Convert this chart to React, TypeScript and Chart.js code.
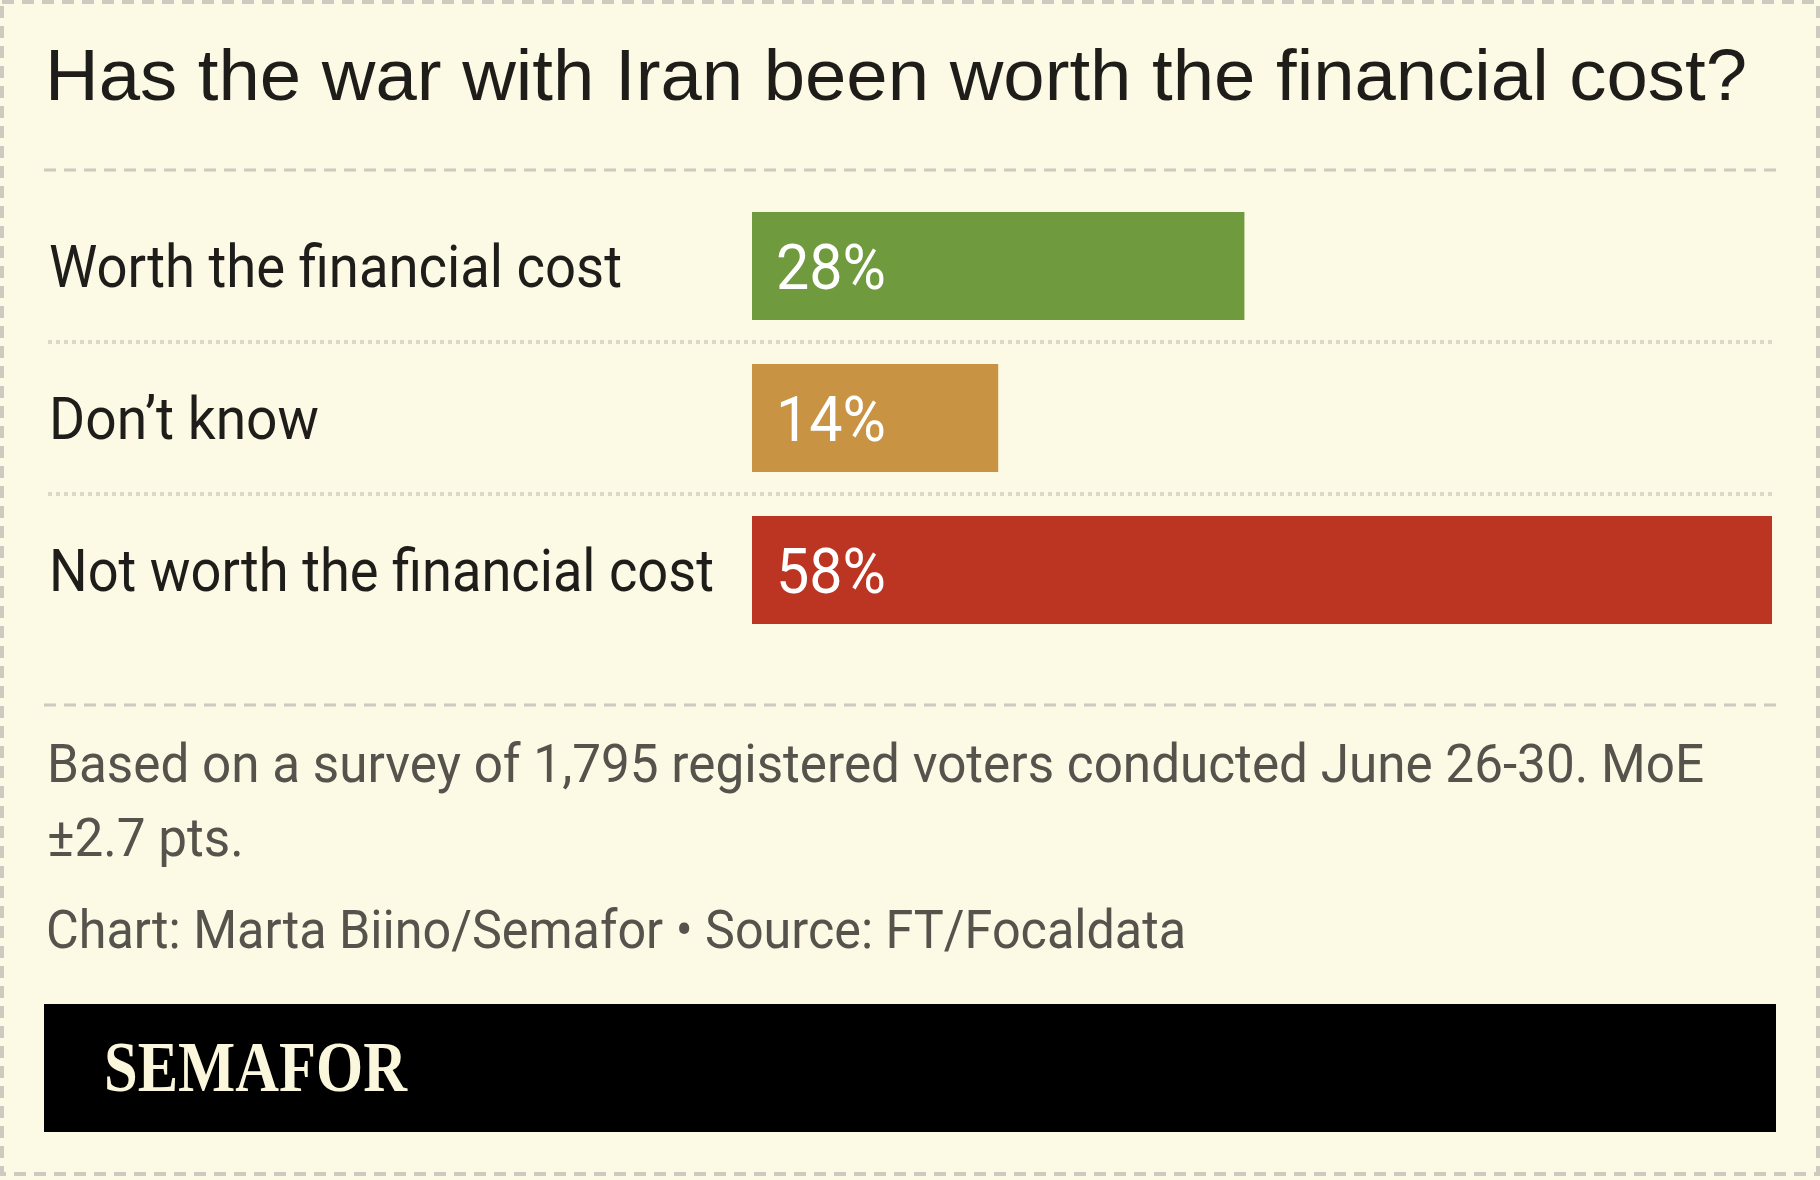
import React, { useEffect, useRef } from "react";
import { Chart, registerables } from "chart.js";

Chart.register(...registerables);

// ---- content ----
const titleText = "Has the war with Iran been worth the financial cost?";
const categories = ["Worth the financial cost", "Don’t know", "Not worth the financial cost"];
const values = [28, 14, 58];
const barColors = ["#709a3e", "#c99344", "#bc3522"];
const noteLines = [
  "Based on a survey of 1,795 registered voters conducted June 26-30. MoE",
  "±2.7 pts.",
];
const creditLine = "Chart: Marta Biino/Semafor • Source: FT/Focaldata";
const brandText = "SEMAFOR";

// ---- styling ----
const W = 1820;
const H = 1180;
const BG = "#fcf9e5";
const RULE = "#cdcac0";
const DOTS = "#dcd9c9";
const INK = "#1e1d19";
const NOTE_INK = "#55534c";
const SANS = "Roboto, 'Noto Sans', sans-serif";

// Draw text with a horizontal squeeze so that it spans `targetWidth` px.
function drawFitted(
  ctx: CanvasRenderingContext2D,
  text: string,
  x: number,
  y: number,
  font: string,
  color: string,
  targetWidth?: number,
  squeeze?: number
): number {
  ctx.save();
  ctx.font = font;
  ctx.fillStyle = color;
  ctx.textAlign = "left";
  ctx.textBaseline = "alphabetic";
  const w = ctx.measureText(text).width;
  const sx = targetWidth ? targetWidth / w : squeeze ?? 1;
  ctx.translate(x, y);
  ctx.scale(sx, 1);
  ctx.fillText(text, 0, 0);
  ctx.restore();
  return sx;
}

function capHeight(ctx: CanvasRenderingContext2D, font: string): number {
  ctx.save();
  ctx.font = font;
  const m = ctx.measureText("H");
  ctx.restore();
  return m.actualBoundingBoxAscent;
}

function hLine(
  ctx: CanvasRenderingContext2D,
  x0: number,
  x1: number,
  y: number,
  width: number,
  dash: number[],
  color: string
) {
  ctx.save();
  ctx.strokeStyle = color;
  ctx.lineWidth = width;
  ctx.setLineDash(dash);
  ctx.beginPath();
  ctx.moveTo(x0, y);
  ctx.lineTo(x1, y);
  ctx.stroke();
  ctx.restore();
}

const framePlugin = {
  id: "semaforFrame",
  beforeDraw(chart: Chart) {
    const ctx = chart.ctx;
    ctx.save();
    ctx.fillStyle = BG;
    ctx.fillRect(0, 0, W, H);
    // outer dashed frame
    ctx.strokeStyle = RULE;
    ctx.lineWidth = 4;
    ctx.setLineDash([12, 8]);
    ctx.strokeRect(2, 2, W - 4, H - 8);
    ctx.restore();

    // headline
    drawFitted(ctx, titleText, 45, 100, "72px 'Liberation Sans', Arial, sans-serif", INK, 1702);
    hLine(ctx, 44, 1776, 170, 3, [12, 8], RULE);
  },
  afterDatasetsDraw(chart: Chart) {
    const ctx = chart.ctx;
    const xs = chart.scales.x;
    const ys = chart.scales.y;

    // dotted separators between rows
    for (let i = 0; i < categories.length - 1; i++) {
      const y = (ys.getPixelForValue(i) + ys.getPixelForValue(i + 1)) / 2;
      hLine(ctx, 48, 1776, y, 4, [4, 4], DOTS);
    }

    // category labels
    const labelFont = `59px ${SANS}`;
    const labelCap = capHeight(ctx, labelFont);
    const labelWidths = [573, 270, 665];
    categories.forEach((cat, i) => {
      const cy = ys.getPixelForValue(i);
      drawFitted(ctx, cat, 49, cy + labelCap / 2, labelFont, INK, labelWidths[i]);
    });

    // value labels inside the bars
    const valFont = `63px ${SANS}`;
    const valCap = capHeight(ctx, valFont);
    let vsq: number | undefined;
    values.forEach((v, i) => {
      const cy = ys.getPixelForValue(i);
      const s = drawFitted(
        ctx,
        `${v}%`,
        xs.getPixelForValue(0) + 24,
        cy + valCap / 2,
        valFont,
        "#ffffff",
        vsq === undefined ? 110 : undefined,
        vsq
      );
      if (vsq === undefined) vsq = s;
    });

    // footer notes
    hLine(ctx, 44, 1776, 705, 3, [12, 8], RULE);
    const noteFont = `53px ${SANS}`;
    const nsq = drawFitted(ctx, noteLines[0], 47, 782, noteFont, NOTE_INK, 1657);
    drawFitted(ctx, noteLines[1], 47, 856, noteFont, NOTE_INK, undefined, nsq);
    drawFitted(ctx, creditLine, 46, 948, noteFont, NOTE_INK, 1140);

    // brand strip
    ctx.save();
    ctx.fillStyle = "#000000";
    ctx.fillRect(44, 1004, 1732, 128);
    ctx.restore();
    drawFitted(ctx, brandText, 104, 1091, "bold 71px 'Liberation Serif', 'DejaVu Serif', serif", "#fbf7dd", 303);
  },
};

export default function App() {
  const canvasRef = useRef<HTMLCanvasElement | null>(null);

  useEffect(() => {
    document.body.style.margin = "0";
    const canvas = canvasRef.current;
    if (!canvas) return;
    const chart = new Chart(canvas, {
      type: "bar",
      data: {
        labels: categories,
        datasets: [
          {
            data: values,
            backgroundColor: barColors,
            borderWidth: 0,
            categoryPercentage: 1,
            barPercentage: 108 / 152,
          },
        ],
      },
      options: {
        indexAxis: "y",
        responsive: false,
        animation: false,
        devicePixelRatio: 1,
        layout: { padding: { left: 752, right: 48, top: 190, bottom: 534 } },
        scales: {
          x: { display: false, min: 0, max: 58 },
          y: { display: false },
        },
        plugins: {
          legend: { display: false },
          tooltip: { enabled: false },
        },
      },
      plugins: [framePlugin],
    });
    return () => chart.destroy();
  }, []);

  return (
    <canvas
      ref={canvasRef}
      width={W}
      height={H}
      style={{ display: "block", width: W, height: H }}
    />
  );
}
